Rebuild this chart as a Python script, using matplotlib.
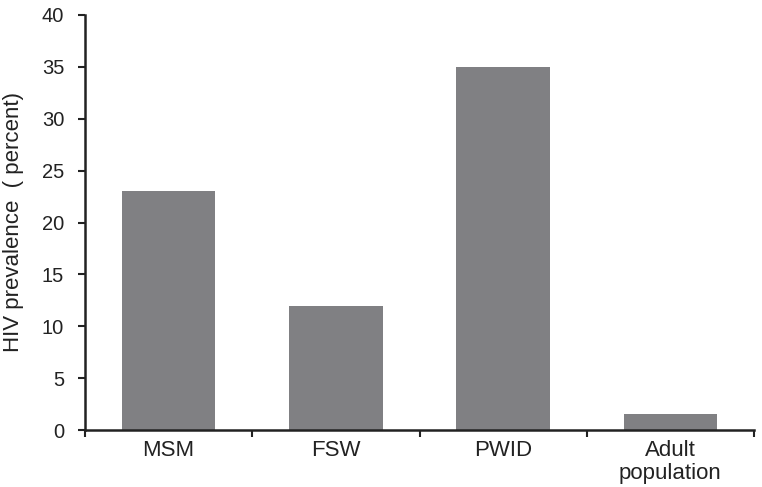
import numpy as np
import matplotlib.pyplot as plt

plt.rcParams['font.family'] = ['Liberation Sans', 'DejaVu Sans']

# data
categories = ['MSM', 'FSW', 'PWID', 'Adult\npopulation']
prevalence = [23, 12, 35, 1.5]

fig = plt.figure(figsize=(7.62, 4.87), dpi=100)
ax = fig.add_axes([85 / 762, 1 - 430 / 487, (754 - 85) / 762, (430 - 15) / 487])

x = np.arange(len(categories))
ax.bar(x, prevalence, width=0.56, color='#808083', zorder=2)

ax.set_xlim(-0.5, len(categories) - 0.5)
ax.set_ylim(0, 40)
ax.set_yticks(np.arange(0, 41, 5))
ax.tick_params(axis='y', direction='out', length=5, width=1.5, labelsize=14.5, pad=10, colors='#222222')

# category labels centred, ticks at the boundaries
ax.set_xticks(np.arange(-0.5, len(categories), 1.0))
ax.set_xticklabels([])
ax.set_xticks(x, minor=True)
ax.set_xticklabels(categories, minor=True, fontsize=16, color='#222222', linespacing=1.15)
ax.tick_params(axis='x', which='major', direction='out', length=5, width=1.5, color='#222222')
ax.tick_params(axis='x', which='minor', length=0, pad=7)

ax.spines['top'].set_visible(False)
ax.spines['right'].set_visible(False)
for s in ('left', 'bottom'):
    ax.spines[s].set_linewidth(1.8)
    ax.spines[s].set_color('#222222')

ax.set_ylabel('HIV prevalence  ( percent)', fontsize=16, color='#222222')
ax.yaxis.set_label_coords(-0.091, 0.5)

fig.savefig('out.png', dpi=100)
